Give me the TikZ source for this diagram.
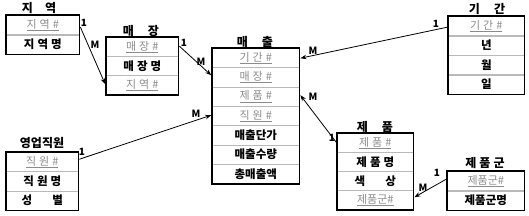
\documentclass[tikz,border=0pt]{standalone}
\usepackage{fontspec}
\setmainfont{Noto Sans CJK KR}
\usetikzlibrary{arrows.meta,fit}
\definecolor{keygray}{RGB}{140,140,140}
\tikzset{
  ent/.style={draw=black, line width=1.6pt, inner sep=0pt},
  cell/.style={draw=gray!55, line width=0.6pt, inner sep=0pt, anchor=north west,
    minimum width=#1, minimum height=19.3pt, font=\fontsize{11.5}{13}\selectfont\bfseries},
  keyt/.style={text=keygray, font=\fontsize{11}{13}\selectfont},
  ttl/.style={font=\fontsize{12}{13}\selectfont\bfseries, inner sep=0pt},
  arr/.style={-{Stealth[length=6pt,width=4.5pt]}, line width=0.8pt},
  card/.style={font=\fontsize{10}{11}\selectfont\bfseries, inner sep=0pt}
}
\newcommand{\keyu}[1]{\setbox0\hbox{#1}\rlap{\rule[-2.5pt]{\wd0}{0.7pt}}\box0}
\newcommand{\gp}{\hspace{3pt}}
\begin{document}
\begin{tikzpicture}[x=1pt,y=-1pt]
\useasboundingbox (0,0) rectangle (529,215);
% 지역
\node[ttl] (jyt) at (39,8) {지\hspace{12pt}역};
\node[cell=73pt,keyt] (jy1) at (6,15) {\keyu{지\gp 역\gp\#}};
\node[cell=73pt] (jy2) at (6,34.5) {지\gp 역\gp 명};
\node[ent,fit=(jy1)(jy2)] (jy) {};
% 매장
\node[ttl] (mjt) at (141,31) {매\hspace{14pt}장};
\node[cell=72pt,keyt] (mj1) at (106,37) {\keyu{매\gp 장\gp\#}};
\node[cell=72pt] (mj2) at (106,56) {매\gp 장\gp 명};
\node[cell=72pt,keyt] (mj3) at (106,75) {\keyu{지\gp 역\gp\#}};
\node[ent,fit=(mj1)(mj3)] (mj) {};
% 매출
\node[ttl] (mct) at (255,42) {매\hspace{14pt}출};
\node[cell=87pt,keyt] (mc1) at (212,48) {\keyu{기\gp 간\gp\#}};
\node[cell=87pt,keyt] (mc2) at (212,67.3) {\keyu{매\gp 장\gp\#}};
\node[cell=87pt,keyt] (mc3) at (212,86.6) {\keyu{제\gp 품\gp\#}};
\node[cell=87pt,keyt] (mc4) at (212,105.9) {\keyu{직\gp 원\gp\#}};
\node[cell=87pt] (mc5) at (212,125.2) {매출단가};
\node[cell=87pt] (mc6) at (212,144.5) {매출수량};
\node[cell=87pt] (mc7) at (212,163.8) {총매출액};
\node[ent,fit=(mc1)(mc7)] (mc) {};
% 기간
\node[ttl] (ggt) at (487,9) {기\hspace{14pt}간};
\node[cell=76pt,keyt] (gg1) at (448,16) {\keyu{기\gp 간\gp\#}};
\node[cell=76pt] (gg2) at (448,35.5) {년};
\node[cell=76pt] (gg3) at (448,55) {월};
\node[cell=76pt] (gg4) at (448,74.5) {일};
\node[ent,fit=(gg1)(gg4)] (gg) {};
% 영업직원
\node[ttl] (yjt) at (42,143) {영업직원};
\node[cell=72pt,keyt] (yj1) at (6,152) {\keyu{직\gp 원\gp\#}};
\node[cell=72pt] (yj2) at (6,171.3) {직\gp 원\gp 명};
\node[cell=72pt] (yj3) at (6,190.6) {성\hspace{20pt}별};
\node[ent,fit=(yj1)(yj3)] (yj) {};
% 제품
\node[ttl] (jpt) at (375,127) {제\hspace{14pt}품};
\node[cell=76pt,keyt] (jp1) at (337,133) {\keyu{제\gp 품\gp\#}};
\node[cell=76pt] (jp2) at (337,152) {제\gp 품\gp 명};
\node[cell=76pt] (jp3) at (337,171) {색\hspace{20pt}상};
\node[cell=76pt,keyt] (jp4) at (337,190) {\keyu{제품군\#}};
\node[ent,fit=(jp1)(jp4)] (jp) {};
% 제품군
\node[ttl] (jgt) at (485,163) {제\gp 품\gp 군};
\node[cell=77pt,keyt] (jg1) at (447,171) {\keyu{제품군\#}};
\node[cell=77pt] (jg2) at (447,190.5) {제품군명};
\node[ent,fit=(jg1)(jg2)] (jg) {};
% connectors
\draw[arr] ([yshift=-13pt]jy.north east) -- ([yshift=-48pt]mj.north west);
\draw[arr] ([yshift=-10pt]mj.north east) -- ([yshift=-28pt]mc.north west);
\draw[arr] ([yshift=-12pt]gg.north west) -- ([yshift=-11pt]mc.north east);
\draw[arr] ([yshift=-8pt]yj.north east) -- ([yshift=-68pt]mc.north west);
\draw[arr] ([yshift=-10pt]jp.north west) -- ([yshift=-48pt]mc.north east);
\draw[arr] ([yshift=-9pt]jg.north west) -- ([yshift=-65pt]jp.north east);
% cardinalities
\node[card] (c1a) at (84,23) {1};
\node[card] (c1b) at (95,45) {M};
\node[card] (c2a) at (184,43) {1};
\node[card] (c2b) at (201,62) {M};
\node[card] (c3a) at (436,24) {1};
\node[card] (c3b) at (313,51) {M};
\node[card] (c4a) at (82,152) {1};
\node[card] (c4b) at (196,114) {M};
\node[card] (c5a) at (332,138) {1};
\node[card] (c5b) at (313,97) {M};
\node[card] (c6a) at (437,173) {1};
\node[card] (c6b) at (423,188) {M};
\end{tikzpicture}
\end{document}
